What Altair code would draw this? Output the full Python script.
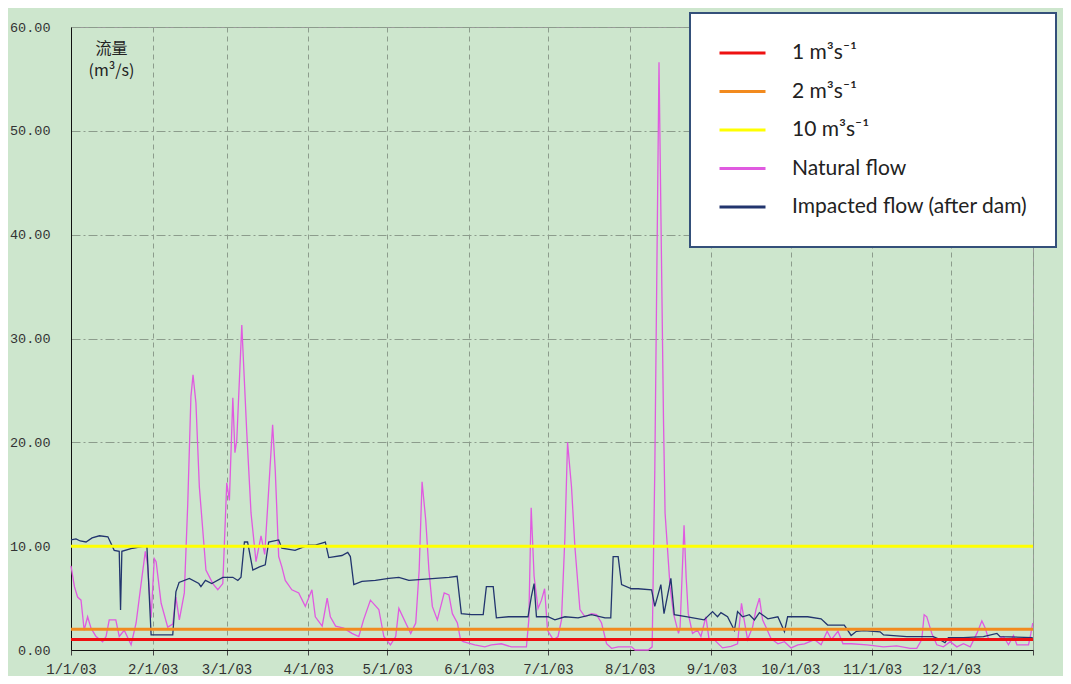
import altair as alt
import pandas as pd

# ---- data ----
series_names = ["1 m³s⁻¹", "2 m³s⁻¹", "10 m³s⁻¹", "Natural flow", "Impacted flow (after dam)"]
series_colors = ["#ee1111", "#f28a1e", "#ffff00", "#e05ae0", "#22356e"]
threshold_values = [1, 2, 10]

# day of year (0 = 1 Jan 2003) and flow, natural flow
nat_day = [0, 1.3, 2.5, 3.8, 5, 6.3, 7.6, 9.5, 12, 13.3, 14.5, 17, 18.3, 20.2, 22.8, 24.7, 26.6, 28.2,
           29.1, 30.4, 31.6, 32.3, 34.2, 36.7, 38.6, 39.8, 41.1, 43, 44.3, 45.5, 46.3, 47.4, 48.7, 51.2,
           53.8, 55.7, 57.6, 59.1, 60.1, 61.4, 62.2, 62.9, 64.8, 66.7, 68.3, 70.2, 72.1, 73.5, 74.9,
           76.5, 77.5, 78.8, 80, 81.3, 83.8, 86.4, 88.9, 91.4, 92.7, 95.3, 97.2, 98.4, 100.4, 103.5,
           106.6, 109.2, 111, 113.6, 116.8, 118.7, 121.2, 123.2, 124.4, 127, 128.9, 130.8, 132.1,
           133.2, 134.6, 135.8, 137.1, 139, 141.6, 143.4, 144.7, 146.6, 147.8, 148.8, 153.2, 157,
           159.5, 163.3, 167.1, 172.8, 173.7, 174.6, 175.7, 177.2, 178.5, 179.7, 180.8, 183, 184.8,
           186.1, 187.4, 188.4, 189.9, 191.2, 193.1, 195, 197.5, 199.4, 201.3, 203.2, 205.1, 207.6,
           212.7, 214, 219, 220.5, 221.5, 223.1, 224.8, 225.4, 227.3, 228.6, 230.5, 231.1, 232.6,
           233.4, 234.2, 235.8, 237.7, 239, 240.9, 242.1, 244, 247.2, 250.4, 252.9, 254.4, 255.4,
           256.7, 258.6, 259.9, 261.2, 262.4, 263.7, 265.6, 268.2, 270.7, 273.2, 275.8, 278.3,
           282.1, 284.6, 286.9, 288.5, 291, 292.9, 296.1, 302, 308.3, 313.3, 318.4, 320.9, 322.8,
           323.7, 324.7, 326.6, 328.5, 331, 333.6, 336.1, 338.6, 341.2, 343.7, 345.6, 346.9, 348.1,
           351.3, 353.8, 355.7, 357.6, 358.9, 363.3, 364.2, 364.9]
nat_flow = [8.1, 6.1, 5.1, 4.8, 1.9, 3.2, 2.1, 1.3, 0.8, 1.3, 2.9, 2.9, 1.3, 1.9, 0.5, 2.6, 6.4, 9.5,
            8.1, 3.1, 8.8, 8.5, 4.5, 2.2, 2.5, 5.1, 2.9, 5.5, 14.1, 24.4, 26.5, 23.8, 15.7, 7.7,
            6.4, 5.8, 6.4, 16.1, 14.4, 24.3, 19.0, 20.2, 31.3, 20.9, 13.2, 8.5, 11.0, 9.2, 15.0,
            21.7, 17.3, 9.0, 8.0, 6.7, 5.8, 5.5, 4.2, 5.8, 3.2, 2.3, 5.0, 3.2, 2.3, 2.1,
            1.6, 1.3, 2.9, 4.8, 3.9, 1.3, 0.5, 1.3, 4.0, 2.6, 1.6, 2.6, 7.7,
            16.2, 12.5, 7.7, 4.2, 2.9, 5.5, 5.3, 3.5, 2.6, 0.97, 0.8, 0.5, 0.3,
            0.5, 0.6, 0.3, 0.3, 2.9, 13.7, 7.1, 4.0, 4.8, 5.9, 1.9, 0.97, 1.3,
            2.9, 10.9, 20.0, 15.7, 9.9, 3.9, 3.2, 3.5, 3.4, 2.6, 0.6, 0.16, 0.3,
            0.3, 0.0, 0.0, 0.3, 17.3, 56.6, 22.2, 13.2, 6.1, 3.5, 1.6, 2.2, 12.0,
            7.0, 3.5, 1.6, 1.9, 1.3, 3.2, 1.0, 1.0, 0.2, 0.35, 0.6, 4.5, 2.9,
            1.0, 2.2, 3.9, 5.0, 2.9, 2.2, 1.1, 0.6, 0.8, 0.2, 0.5, 0.6,
            1.0, 0.5, 1.8, 1.0, 1.8, 0.6, 0.6, 0.5, 0.3, 0.4, 0.16, 0.16, 1.0,
            3.4, 3.2, 1.6, 0.5, 0.3, 0.8, 0.3, 0.6, 0.3, 1.6, 2.8, 2.1, 1.1,
            1.0, 1.3, 0.5, 1.4, 0.5, 0.5, 1.6, 2.6]

# impacted flow (after dam)
imp_day = [0, 1.9, 3.5, 5.7, 8, 10.8, 14, 16.4, 18.3, 18.8, 19.3, 23.4, 27.8, 28.8, 30.4, 38.6,
           39.8, 41, 44.9, 48.5, 49.3, 51, 53.4, 57.6, 61.4, 63.3, 64.5, 65.8, 67, 69, 71.5, 73.7,
           75, 78.8, 80, 85, 90, 92.7, 96.5, 97.8, 102.8, 105, 106, 107.3, 110.4, 115.5, 120.6,
           124.4, 128.2, 133.2, 138.3, 143.4, 146.5, 148.1, 151.9, 156.4, 157.6, 160.2, 161.4,
           166, 173.4, 174.7, 175.7, 176.6, 181, 183.6, 187.4, 192.4, 197.5, 202.6, 204.8, 205.7,
           207.6, 208.9, 212.7, 215.2, 220.3, 221.5, 223.8, 225, 227.6, 228.9, 233.9, 240.2,
           243.4, 245.3, 246.6, 249.1, 251.7, 252.9, 254.8, 257.4, 259.3, 261.2, 264.4, 268.2,
           270.7, 271.9, 279.5, 284.6, 287.1, 293.4, 296, 298, 300.8, 307, 308.3, 317.1, 327.2,
           329.7, 331.6, 332.9, 338.6, 346.2, 351.3, 352.5, 364.9]
imp_flow = [10.6, 10.7, 10.5, 10.4, 10.8, 11.0, 10.9, 9.6, 9.5, 3.85, 9.5, 9.8, 10.0, 10.0, 1.45, 1.45,
            5.6, 6.5, 6.9, 6.4, 6.1, 6.7, 6.4, 7.0, 7.0, 6.7, 7.0, 10.4, 10.4, 7.7, 8.0, 8.2,
            10.4, 10.6, 9.8, 9.6, 10.1, 10.1, 10.4, 8.9, 9.1, 9.4, 9.0, 6.3, 6.6, 6.7, 6.9,
            7.0, 6.7, 6.8, 6.9, 7.0, 7.1, 3.5, 3.4, 3.4, 6.1, 6.1, 3.1,
            3.2, 3.2, 5.2, 6.4, 3.2, 3.2, 2.9, 3.2, 3.1, 3.4, 3.1, 3.1, 9.0,
            9.0, 6.3, 5.9, 5.9, 5.8, 4.2, 6.3, 3.5, 6.9, 3.4, 3.2, 2.9,
            3.7, 3.2, 3.6, 3.2, 1.9, 3.7, 3.2, 3.4, 2.9, 3.6, 3.0, 3.2,
            1.77, 3.2, 3.2, 3.0, 2.4, 2.4, 1.4, 1.8, 1.86, 1.75, 1.45, 1.28, 1.28,
            1.0, 0.7, 1.2, 1.2, 1.28, 1.6, 1.28, 1.2]

start = pd.Timestamp("2003-01-01")


def to_dates(days):
    return [start + pd.Timedelta(days=d) for d in days]


flows = pd.concat([
    pd.DataFrame({"date": to_dates(nat_day), "flow": nat_flow, "series": series_names[3]}),
    pd.DataFrame({"date": to_dates(imp_day), "flow": imp_flow, "series": series_names[4]}),
])
rules = pd.DataFrame({"flow": threshold_values, "series": series_names[:3]})

# ---- chart ----
bg = "#cde6cd"
grid_col = "#8c9c8c"

color = alt.Color(
    "series:N",
    scale=alt.Scale(domain=series_names, range=series_colors),
    legend=alt.Legend(
        orient="none", legendX=619, legendY=-14, title=None,
        symbolType="stroke", symbolSize=2116, symbolStrokeWidth=3, clipHeight=24,
        labelFont="Lato", labelFontSize=21, labelColor="#222222", labelOffset=25,
        padding=28, rowPadding=14.5, fillColor="white", strokeColor="#34507a",
        labelLimit=400,
    ),
)

month_vals = [alt.DateTime(year=2003, month=m, date=1) for m in range(1, 13)] + [
    alt.DateTime(year=2004, month=1, date=1)]

x_enc = alt.X(
    "date:T",
    scale=alt.Scale(domain=[alt.DateTime(year=2003, month=1, date=1),
                            alt.DateTime(year=2004, month=1, date=1)], nice=False),
    axis=alt.Axis(
        values=month_vals, title=None, labelFlush=False,
        labelExpr="year(datum.value) == 2004 ? '' : timeFormat(datum.value, '%-m/%-d/%y')",
        labelFont="Liberation Mono", labelFontSize=14, labelColor="#333333",
        labelPadding=7, tickSize=5, tickColor="#444444", domainColor="#111111",
        gridColor=grid_col, gridDash=[5, 4], gridWidth=1,
    ),
)
y_enc = alt.Y(
    "flow:Q",
    scale=alt.Scale(domain=[0, 60], nice=False),
    axis=alt.Axis(
        values=[0, 10, 20, 30, 40, 50, 60], format=".2f", ticks=False, labelPadding=21,
        labelFont="Liberation Mono", labelFontSize=13.5, labelColor="#333333",
        domainColor="#111111", gridColor=grid_col, gridDash=[9, 3, 2, 3], gridWidth=1,
        title=["流量", "(m³/s)"], titleAngle=0, titleX=40, titleY=13, titleBaseline="top",
        titleAlign="center", titleFont="Noto Sans CJK SC", titleFontSize=16,
        titleFontWeight="normal", titleColor="#222222", titleLineHeight=22,
    ),
)

lines = alt.Chart(flows).mark_line(strokeWidth=1.3, interpolate="linear").encode(
    x=x_enc, y=y_enc, color=color, detail="series:N",
)
thresholds = alt.Chart(rules).mark_rule(strokeWidth=3).encode(
    y=alt.Y("flow:Q"), color=alt.Color("series:N"),
)

chart = alt.layer(lines, thresholds).properties(
    width=962, height=623,
    autosize=alt.AutoSizeParams(type="none"),
    padding={"left": 63, "top": 19, "right": 30, "bottom": 26},
    background=bg,
).configure_view(fill=bg, stroke="#9a9a9a", strokeWidth=1).configure_legend(strokeWidth=2)

chart.save("out.html", embed_options={"renderer": "svg", "actions": False})
